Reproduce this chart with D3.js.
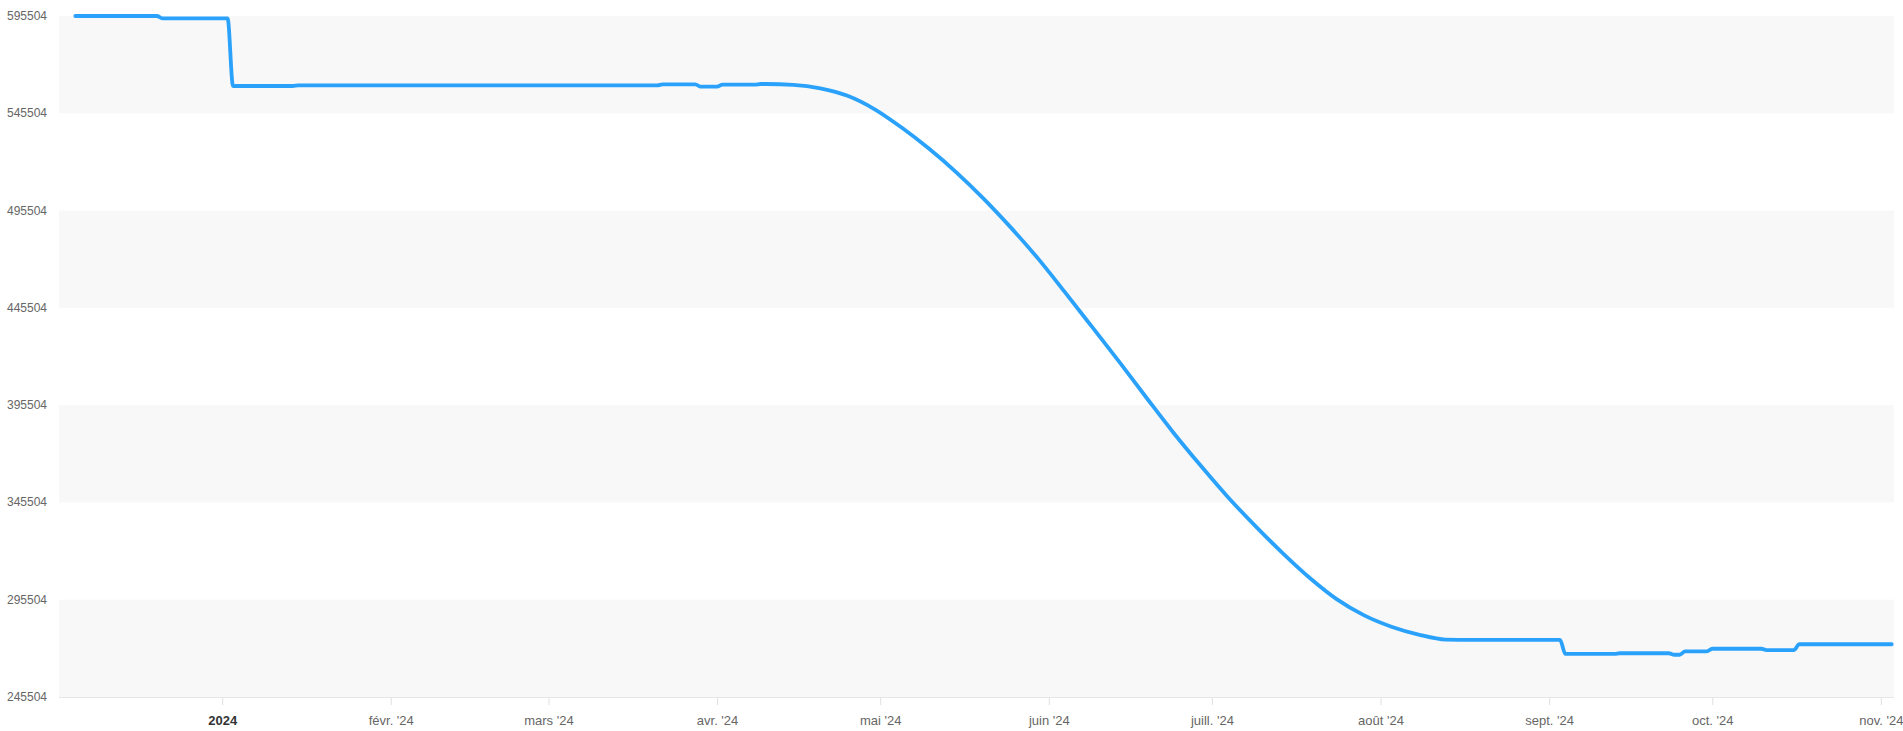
<!DOCTYPE html>
<html>
<head>
<meta charset="utf-8">
<script src="https://cdn.jsdelivr.net/npm/d3@7"></script>
<style>
  html, body { margin: 0; padding: 0; background: #fff; }
  svg { display: block; font-family: "Liberation Sans", Arial, sans-serif; }
</style>
</head>
<body>
<svg id="chart"></svg>
<script>
// series (daily series, only change points kept)
const dates = [
  "2023-12-05","2023-12-20","2023-12-21","2024-01-02","2024-01-03","2024-01-14","2024-01-15",
  "2024-03-21","2024-03-22","2024-03-28","2024-03-29","2024-04-01","2024-04-02","2024-04-08",
  "2024-04-09","2024-04-10","2024-04-15","2024-04-20","2024-04-25","2024-04-30","2024-05-05",
  "2024-05-10","2024-05-15","2024-05-20","2024-05-25","2024-05-30","2024-06-04","2024-06-09",
  "2024-06-14","2024-06-19","2024-06-24","2024-06-29","2024-07-04","2024-07-09","2024-07-14",
  "2024-07-19","2024-07-24","2024-07-29","2024-08-03","2024-08-08","2024-08-13","2024-08-18",
  "2024-09-03","2024-09-04","2024-09-13","2024-09-14","2024-09-23","2024-09-24","2024-09-25",
  "2024-09-26","2024-09-30","2024-10-01","2024-10-10","2024-10-11","2024-10-16","2024-10-17",
  "2024-11-03"
];
const values = [
  595504, 595504, 594300, 594300, 559530, 559530, 559890,
  559890, 560400, 560400, 559170, 559170, 560200, 560200,
  560560, 560560, 560144, 558346, 554491, 547552, 538044,
  527251, 515173, 501657, 486855, 470922, 453448, 435563,
  417574, 399175, 381084, 364175, 348037, 333338, 319461,
  306664, 295666, 287442, 281635, 277575, 275005, 274842,
  274842, 267636, 267636, 268000, 268000, 267225, 267225,
  268920, 268920, 270310, 270310, 269640, 269640, 272620,
  272620
];

const yTicks = [245504, 295504, 345504, 395504, 445504, 495504, 545504, 595504];
const xTickDates = ["2024-01-01","2024-02-01","2024-03-01","2024-04-01","2024-05-01","2024-06-01",
  "2024-07-01","2024-08-01","2024-09-01","2024-10-01","2024-11-01"];
const xTickLabels = ["2024","févr. '24","mars '24","avr. '24","mai '24","juin '24",
  "juill. '24","août '24","sept. '24","oct. '24","nov. '24"];

const width = 1903, height = 731;
const plot = { left: 59, right: 1894, top: 16, bottom: 697 };

const parse = d3.timeParse("%Y-%m-%d");
const data = dates.map((d, i) => ({ date: parse(d), value: values[i] }));

const svg = d3.select("#chart").attr("width", width).attr("height", height);

const x = d3.scaleTime()
  .domain([new Date(2023, 11, 2), new Date(2024, 10, 3, 10)])
  .range([plot.left, plot.right]);
const y = d3.scaleLinear()
  .domain([245504, 595504])
  .range([plot.bottom, plot.top]);

// alternating bands
const bands = d3.pairs(yTicks).filter((p, i) => i % 2 === 0);
svg.append("g").selectAll("rect")
  .data(bands)
  .enter().append("rect")
  .attr("x", plot.left)
  .attr("width", plot.right - plot.left)
  .attr("y", d => y(d[1]))
  .attr("height", d => y(d[0]) - y(d[1]))
  .attr("fill", "#f8f8f8");

// y labels
svg.append("g").selectAll("text")
  .data(yTicks)
  .enter().append("text")
  .attr("x", 47)
  .attr("y", d => y(d) + 4)
  .attr("text-anchor", "end")
  .style("font-size", "12px")
  .style("fill", "#666")
  .text(d => d);

// x axis
const xAxis = d3.axisBottom(x)
  .tickValues(xTickDates.map(parse))
  .tickSize(8)
  .tickFormat((d, i) => xTickLabels[i]);

const gx = svg.append("g")
  .attr("transform", `translate(0,${plot.bottom})`)
  .call(xAxis);
gx.select(".domain").remove();
gx.selectAll(".tick line").attr("stroke", "#e0e0e0");
gx.selectAll(".tick text")
  .attr("y", 19)
  .style("font-family", "'Liberation Sans', Arial, sans-serif")
  .style("font-size", "13px")
  .style("fill", "#666");
gx.selectAll(".tick text").filter((d, i) => i === 0)
  .style("font-weight", "bold")
  .style("fill", "#333");

svg.append("line")
  .attr("x1", plot.left).attr("x2", plot.right)
  .attr("y1", plot.bottom + 0.5).attr("y2", plot.bottom + 0.5)
  .attr("stroke", "#e6e6e6");

// line
const line = d3.line()
  .x(d => x(d.date))
  .y(d => y(d.value))
  .curve(d3.curveMonotoneX);

svg.append("path")
  .datum(data)
  .attr("fill", "none")
  .attr("stroke", "#2aa2fc")
  .attr("stroke-width", 3.8)
  .attr("stroke-linejoin", "round")
  .attr("stroke-linecap", "round")
  .attr("d", line);
</script>
</body>
</html>
